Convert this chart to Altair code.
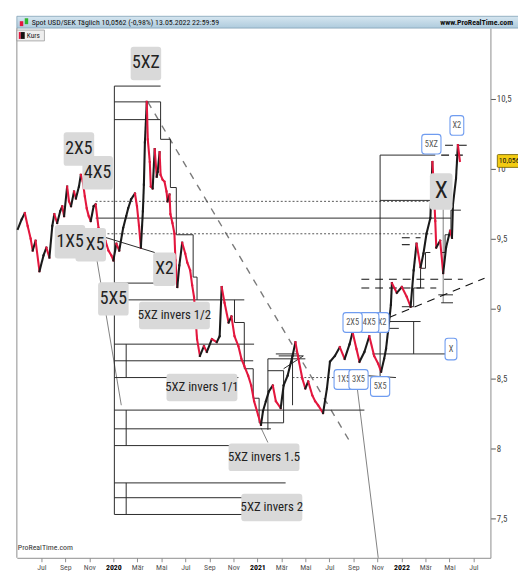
import altair as alt
import pandas as pd

# ---------------- data ----------------
# time as fractional year, USD/SEK price
dates = [
    2019.337, 2019.364, 2019.385, 2019.405, 2019.426, 2019.440, 2019.460, 2019.487, 2019.515, 2019.535,
    2019.556, 2019.576, 2019.590, 2019.610, 2019.631, 2019.645, 2019.658, 2019.679, 2019.692, 2019.706,
    2019.727, 2019.740, 2019.761, 2019.774, 2019.788, 2019.802, 2019.815, 2019.829, 2019.843, 2019.863,
    2019.877, 2019.897, 2019.918, 2019.945, 2019.966, 2019.986, 2020.000, 2020.021, 2020.041, 2020.068,
    2020.089, 2020.103, 2020.123, 2020.150, 2020.164, 2020.178, 2020.191, 2020.205, 2020.212, 2020.219,
    2020.232, 2020.239, 2020.253, 2020.260, 2020.273, 2020.287, 2020.301, 2020.308, 2020.321, 2020.328,
    2020.342, 2020.355, 2020.369, 2020.376, 2020.390, 2020.396, 2020.410, 2020.424, 2020.431, 2020.444,
    2020.458, 2020.478, 2020.499, 2020.513, 2020.533, 2020.547, 2020.560, 2020.581, 2020.601, 2020.629,
    2020.649, 2020.684, 2020.718, 2020.738, 2020.752, 2020.772, 2020.800, 2020.820, 2020.841, 2020.868,
    2020.889, 2020.909, 2020.936, 2020.957, 2020.977, 2021.005, 2021.025, 2021.039, 2021.059, 2021.080,
    2021.107, 2021.128, 2021.162, 2021.182, 2021.210, 2021.244, 2021.264, 2021.285, 2021.312, 2021.333,
    2021.353, 2021.381, 2021.401, 2021.422, 2021.456, 2021.483, 2021.504, 2021.538, 2021.572, 2021.606,
    2021.640, 2021.661, 2021.688, 2021.709, 2021.743, 2021.777, 2021.811, 2021.839, 2021.859, 2021.880,
    2021.893, 2021.914, 2021.927, 2021.934, 2021.968, 2022.003, 2022.037, 2022.064, 2022.085, 2022.105,
    2022.133, 2022.153, 2022.174, 2022.201, 2022.215, 2022.221, 2022.235, 2022.242, 2022.269, 2022.290,
    2022.310, 2022.338, 2022.351, 2022.358, 2022.379, 2022.392, 2022.406,
]
closes = [
    9.570, 9.640, 9.683, 9.591, 9.499, 9.415, 9.485, 9.267, 9.380, 9.436,
    9.365, 9.591, 9.676, 9.612, 9.697, 9.732, 9.661, 9.873, 9.767, 9.732,
    9.838, 9.788, 9.873, 9.957, 9.908, 9.802, 9.718, 9.661, 9.626, 9.732,
    9.746, 9.577, 9.542, 9.485, 9.415, 9.380, 9.344, 9.464, 9.415, 9.577,
    9.661, 9.718, 9.781, 9.823, 9.732, 9.591, 9.436, 9.697, 9.887, 10.190,
    10.479, 10.211, 10.049, 9.873, 9.859, 10.141, 9.943, 9.978, 10.119, 9.957,
    9.922, 9.908, 9.838, 9.767, 9.816, 9.676, 9.612, 9.535, 9.344, 9.154,
    9.309, 9.471, 9.394, 9.330, 9.274, 9.168, 9.084, 8.781, 8.661, 8.731,
    8.689, 8.781, 8.759, 8.802, 9.154, 9.041, 8.900, 8.943, 8.802, 8.731,
    8.640, 8.590, 8.520, 8.449, 8.337, 8.238, 8.167, 8.266, 8.337, 8.407,
    8.449, 8.337, 8.287, 8.449, 8.520, 8.661, 8.759, 8.640, 8.499, 8.428,
    8.478, 8.379, 8.337, 8.308, 8.252, 8.428, 8.619, 8.661, 8.724, 8.640,
    8.745, 8.830, 8.710, 8.619, 8.689, 8.802, 8.661, 8.604, 8.548, 8.640,
    8.710, 8.900, 9.027, 9.182, 9.112, 9.154, 9.084, 9.013, 9.274, 9.464,
    9.295, 9.394, 9.535, 9.647, 10.049, 9.943, 9.626, 9.436, 9.485, 9.253,
    9.436, 9.556, 9.506, 9.746, 9.929, 10.169, 10.056,
]

solid_lines = [
    [(2020.007, 10.592), (2020.007, 7.526)],
    [(2020.007, 10.592), (2020.328, 10.592)],
    [(2020.007, 10.352), (2020.328, 10.352)],
    [(2020.007, 10.479), (2020.328, 10.479), (2020.328, 10.211), (2020.396, 10.211), (2020.396, 9.866),
     (2020.437, 9.866), (2020.437, 9.528), (2020.554, 9.528), (2020.554, 9.225), (2020.581, 9.225), (2020.581, 9.062)],
    [(2020.007, 9.182), (2020.287, 9.182)],
    [(2020.007, 9.062), (2020.909, 9.062)],
    [(2020.841, 9.062), (2020.841, 8.900), (2020.909, 8.900), (2020.909, 8.569), (2020.971, 8.569),
     (2020.971, 8.358), (2021.012, 8.358), (2021.012, 8.182)],
    [(2020.007, 8.745), (2020.977, 8.745)],
    [(2020.007, 8.626), (2020.971, 8.626)],
    [(2020.007, 8.506), (2020.868, 8.506)],
    [(2020.007, 8.273), (2021.743, 8.273)],
    [(2020.007, 8.139), (2021.094, 8.139)],
    [(2020.007, 8.019), (2020.807, 8.019)],
    [(2020.007, 7.752), (2021.196, 7.752)],
    [(2020.007, 7.646), (2020.902, 7.646)],
    [(2020.007, 7.526), (2020.902, 7.526)],
    [(2020.089, 8.745), (2020.089, 8.506)],
    [(2020.089, 8.273), (2020.089, 8.019)],
    [(2020.089, 7.752), (2020.089, 7.526)],
    [(2019.877, 9.647), (2022.344, 9.647)],
    [(2019.932, 9.513), (2020.287, 9.401)],
    [(2021.852, 8.513), (2021.852, 10.098), (2022.235, 10.098)],
    [(2021.852, 9.774), (2022.201, 9.774)],
    [(2021.538, 8.534), (2021.962, 8.506)],
    [(2021.798, 8.675), (2022.324, 8.675)],
    [(2022.085, 8.675), (2022.085, 8.907)],
    [(2021.866, 8.907), (2022.133, 8.907)],
    [(2021.825, 8.858), (2021.982, 8.858)],
    [(2021.073, 8.132), (2021.073, 8.640), (2021.333, 8.640)],
    [(2021.128, 8.675), (2021.285, 8.675)],
    [(2021.012, 8.182), (2021.182, 8.182), (2021.182, 8.555), (2021.073, 8.555)],
    [(2021.244, 8.308), (2021.244, 8.661)],
    [(2021.182, 8.569), (2021.319, 8.661), (2021.148, 8.661)],
    [(2022.003, 9.013), (2022.085, 9.013), (2022.085, 9.147), (2022.133, 9.147), (2022.133, 9.288),
     (2022.167, 9.288), (2022.167, 9.401), (2022.201, 9.401)],
    [(2022.276, 9.401), (2022.303, 9.401), (2022.303, 9.528), (2022.344, 9.528), (2022.344, 9.704), (2022.413, 9.704)],
    [(2022.256, 9.098), (2022.358, 9.098)],
    [(2022.276, 9.041), (2022.358, 9.041)],
]
dotted_lines = [
    [(2019.877, 9.767), (2022.208, 9.767)],
    [(2019.877, 9.535), (2022.221, 9.535)],
    [(2021.244, 8.506), (2021.572, 8.506)],
]
dashed_lines = [
    [(2021.722, 9.210), (2022.426, 9.210)],
    [(2021.722, 9.147), (2022.242, 9.147)],
    [(2021.914, 8.936), (2022.577, 9.217)],
    [(2022.303, 10.169), (2022.461, 10.169)],
    [(2022.276, 10.098), (2022.461, 10.098)],
    [(2022.003, 9.506), (2022.133, 9.506)],
    [(2022.003, 9.457), (2022.064, 9.457)],
]
trend_lines = [
    [(2020.239, 10.479), (2021.654, 8.027)],
]
connector_lines = [
    [(2019.884, 9.359), (2020.055, 8.308)],
    [(2021.681, 8.534), (2021.839, 7.216)],
    [(2021.025, 8.146), (2021.073, 8.041)],
    [(2022.290, 9.711), (2022.290, 9.041)],
]

gray_labels_back = [("3X5", 2019.843, 9.457), ("2X5", 2019.761, 10.141)]
gray_labels_front = [
    ("5XZ", 2020.226, 10.754), ("4X5", 2019.891, 9.971), ("1X5", 2019.699, 9.478),
    ("X2", 2020.355, 9.281), ("5X5", 2020.000, 9.069),
    ("5XZ invers 1/2", 2020.424, 8.950), ("5XZ invers 1/1", 2020.615, 8.435),
    ("5XZ invers 1.5", 2021.046, 7.935), ("5XZ invers 2", 2021.100, 7.576),
    ("X", 2022.276, 9.838),
]
blue_labels_back = [("X2", 2021.866, 8.900), ("1X5", 2021.599, 8.492)]
blue_labels_front = [
    ("4X5", 2021.777, 8.900), ("2X5", 2021.661, 8.900), ("3X5", 2021.702, 8.492),
    ("5X5", 2021.852, 8.442), ("5XZ", 2022.208, 10.176), ("X2", 2022.385, 10.310),
    ("X", 2022.344, 8.710),
]
last_price = 10.056
y_ticks = [7.5, 8.0, 8.5, 9.0, 9.5, 10.0, 10.5]
x_ticks = [y + (m - 1) / 12 for y in (2019, 2020, 2021, 2022) for m in (1, 3, 5, 7, 9, 11)
           if 2019.45 < y + (m - 1) / 12 < 2022.55]
header_text = "Spot USD/SEK Täglich 10,0562 (-0,98%) 13.05.2022 22:59:59"

# ---------------- helpers ----------------
FONT = "Liberation Sans Narrow, Arial Narrow, Roboto Condensed, DejaVu Sans Condensed, Liberation Sans, sans-serif"
xs = alt.Scale(domain=[2019.330, 2022.618], nice=False, zero=False)
ys = alt.Scale(domain=[7.216, 11.007], nice=False, zero=False)
MONTHS = "['Jan','Feb','Mär','Apr','Mai','Jun','Jul','Aug','Sep','Okt','Nov','Dez']"
MEXPR = "round((datum.value - floor(datum.value)) * 12)"
x_axis = alt.Axis(
    values=x_ticks, title=None, grid=False,
    labelExpr=f"{MEXPR} == 0 ? '' + round(datum.value) : {MONTHS}[{MEXPR}]",
    domainColor="#8c8c8c", tickColor="#8c8c8c", tickSize=4, labelFontSize=8, labelPadding=2,
    labelFont=FONT, labelOverlap=False, labelFlush=False,
    labelColor={"condition": {"test": f"{MEXPR} == 0", "value": "#000000"}, "value": "#555555"},
    labelFontWeight={"condition": {"test": f"{MEXPR} == 0", "value": "bold"}, "value": "normal"},
)
y_axis = alt.Axis(
    values=y_ticks, orient="right", title=None, grid=False,
    labelExpr="replace(toString(datum.value), '.', ',')",
    domainColor="#8c8c8c", tickColor="#555555", tickSize=5, labelFontSize=9, labelPadding=1,
    labelColor="#444444", labelFont=FONT,
)


def X(f="t"):
    return alt.X(f"{f}:Q", scale=xs, axis=x_axis)


def Y(f="p"):
    return alt.Y(f"{f}:Q", scale=ys, axis=y_axis)


def segments(lines):
    rows = []
    for line in lines:
        for (a, b), (c, d) in zip(line[:-1], line[1:]):
            rows.append({"t": a, "p": b, "t2": c, "p2": d})
    return pd.DataFrame(rows)


def seg_layer(lines, **mk):
    return alt.Chart(segments(lines)).mark_rule(**mk).encode(
        x=X(), y=Y(), x2=alt.X2("t2:Q"), y2=alt.Y2("p2:Q"))


def box_path(w, h, r):
    s = max(w, h)
    k = 2.0 / s
    hw, hh, rr = w / 2 * k, h / 2 * k, r * k
    return (f"M{-hw + rr:.4f},{-hh:.4f}H{hw - rr:.4f}Q{hw:.4f},{-hh:.4f},{hw:.4f},{-hh + rr:.4f}"
            f"V{hh - rr:.4f}Q{hw:.4f},{hh:.4f},{hw - rr:.4f},{hh:.4f}H{-hw + rr:.4f}"
            f"Q{-hw:.4f},{hh:.4f},{-hw:.4f},{hh - rr:.4f}V{-hh + rr:.4f}"
            f"Q{-hw:.4f},{-hh:.4f},{-hw + rr:.4f},{-hh:.4f}Z"), s * s


def gray_df(labels):
    rows = []
    for txt, t, p in labels:
        if len(txt) > 4:
            w, h, fs = 5 * len(txt) + 2, 28, 13
        elif txt == "X":
            w, h, fs = 23, 37, 24
        else:
            w, h, fs = 8 * len(txt) + 7, 34, 18
        shp, sz = box_path(w, h, 3)
        rows.append({"txt": txt, "t": t, "p": p, "shape": shp, "size": sz, "fs": fs})
    return pd.DataFrame(rows)


def blue_df(labels):
    rows = []
    for txt, t, p in labels:
        w = max(12, 5.5 * len(txt) + 3)
        h = 22 if txt == "X" else 20
        shp, sz = box_path(w, h, 3)
        rows.append({"txt": txt, "t": t, "p": p, "shape": shp, "size": sz, "fs": 8.5})
    return pd.DataFrame(rows)


def label_layers(df, fill, stroke, text_color):
    mk = dict(filled=True, opacity=1, fill=fill)
    if stroke:
        mk.update(stroke=stroke, strokeWidth=1.1)
    boxes = alt.Chart(df).mark_point(**mk).encode(
        x=X(), y=Y(),
        shape=alt.Shape("shape:N", scale=None, legend=None),
        size=alt.Size("size:Q", scale=None, legend=None))
    texts = alt.Chart(df).mark_text(font=FONT, color=text_color, baseline="middle", align="center").encode(
        x=X(), y=Y(), text="txt:N", size=alt.Size("fs:Q", scale=None, legend=None))
    return [boxes, texts]


# ---------------- price segments ----------------
pr = pd.DataFrame({"t": dates, "p": closes})
pseg = pd.DataFrame({"t": pr.t[:-1].values, "p": pr.p[:-1].values,
                     "t2": pr.t[1:].values, "p2": pr.p[1:].values})
pseg["dir"] = ["up" if b >= a else "down" for a, b in zip(pseg.p, pseg.p2)]
price = alt.Chart(pseg).mark_rule(strokeWidth=2.1, strokeCap="square").encode(
    x=X(), y=Y(), x2=alt.X2("t2:Q"), y2=alt.Y2("p2:Q"),
    color=alt.Color("dir:N", scale=alt.Scale(domain=["up", "down"], range=["#1a1a1a", "#e3173e"]), legend=None))

# ---------------- decorations (frame, header) ----------------
one = alt.Chart(pd.DataFrame({"a": [0]}))
header_bar = one.mark_rect(
    color=alt.Gradient(gradient="linear", x1=0, x2=0, y1=0, y2=1,
                       stops=[alt.GradientStop(color="#d6e6f0", offset=0),
                              alt.GradientStop(color="#aecbdd", offset=1)]),
    stroke="#7f9fb5", strokeWidth=0.8).encode(
    x=alt.value(0), x2=alt.value(515), y=alt.value(-12), y2=alt.value(0))
header_txt = one.mark_text(align="left", baseline="middle", fontSize=8, font=FONT, color="#111").encode(
    x=alt.value(15), y=alt.value(-5.5), text=alt.value(header_text))
header_www = one.mark_text(align="left", baseline="middle", fontSize=8, font=FONT, fontWeight="bold",
                           color="#111").encode(x=alt.value(430), y=alt.value(-5.5), text=alt.value("www.ProRealTime.com"))
icon_red = one.mark_rect(color="#e3173e").encode(x=alt.value(3), x2=alt.value(6.5), y=alt.value(-7), y2=alt.value(-2))
icon_green = one.mark_rect(color="#2fb52f").encode(x=alt.value(8), x2=alt.value(11.5), y=alt.value(-10), y2=alt.value(-4))
kurs_box = one.mark_rect(color="#eeeeee", stroke="#9a9a9a", strokeWidth=0.8).encode(
    x=alt.value(0), x2=alt.value(28), y=alt.value(2), y2=alt.value(13))
kurs_red = one.mark_rect(color="#e3173e").encode(x=alt.value(2), x2=alt.value(4), y=alt.value(4), y2=alt.value(11))
kurs_blk = one.mark_rect(color="#111111").encode(x=alt.value(4), x2=alt.value(8), y=alt.value(4), y2=alt.value(11))
kurs_txt = one.mark_text(align="left", baseline="middle", fontSize=7.5, font=FONT, color="#222").encode(
    x=alt.value(10), y=alt.value(7.8), text=alt.value("Kurs"))
left_border = one.mark_rule(color="#8c8c8c").encode(x=alt.value(0), y=alt.value(0), y2=alt.value(538))
brand = one.mark_text(align="left", baseline="middle", fontSize=8, font=FONT, color="#333").encode(
    x=alt.value(1), y=alt.value(528), text=alt.value("ProRealTime.com"))

lp = pd.DataFrame({"p": [last_price], "txt": ["10,056"]})
ybox_shape, ybox_size = box_path(24, 13, 1)
price_box = alt.Chart(lp).mark_point(filled=True, opacity=1, fill="#f3cc12", stroke="#6b5a00", strokeWidth=0.8,
                                     shape=ybox_shape, size=ybox_size).encode(x=alt.value(500), y=Y())
price_txt = alt.Chart(lp).mark_text(fontSize=8, font=FONT, color="#111", align="center", baseline="middle").encode(
    x=alt.value(500), y=Y(), text="txt:N")

layers = [
    header_bar, header_txt, header_www, icon_red, icon_green, left_border,
    seg_layer(trend_lines, color="#7a7a7a", strokeWidth=1.4, strokeDash=[7, 7]),
    seg_layer(connector_lines, color="#808080", strokeWidth=1),
    seg_layer(dotted_lines, color="#555555", strokeWidth=1, strokeDash=[2, 2]),
    seg_layer(solid_lines, color="#2a2a2a", strokeWidth=1),
    seg_layer(dashed_lines, color="#111111", strokeWidth=1.1, strokeDash=[8, 6]),
    price,
]
layers += label_layers(gray_df(gray_labels_back), "#d9d9d9", None, "#222222")
layers += label_layers(gray_df(gray_labels_front), "#d9d9d9", None, "#222222")
layers += label_layers(blue_df(blue_labels_back), "#ffffff", "#6f9cf0", "#555555")
layers += label_layers(blue_df(blue_labels_front), "#ffffff", "#6f9cf0", "#555555")
layers += [kurs_box, kurs_red, kurs_blk, kurs_txt, brand, price_box, price_txt]

chart = alt.layer(*layers).properties(
    width=481, height=538,
    padding={"left": 9, "top": 16, "right": 28, "bottom": 9},
    autosize=alt.AutoSizeParams(type="none"),
    background="white",
).configure_view(strokeWidth=0)

chart.save("out.html", embed_options={"renderer": "svg", "actions": False})
